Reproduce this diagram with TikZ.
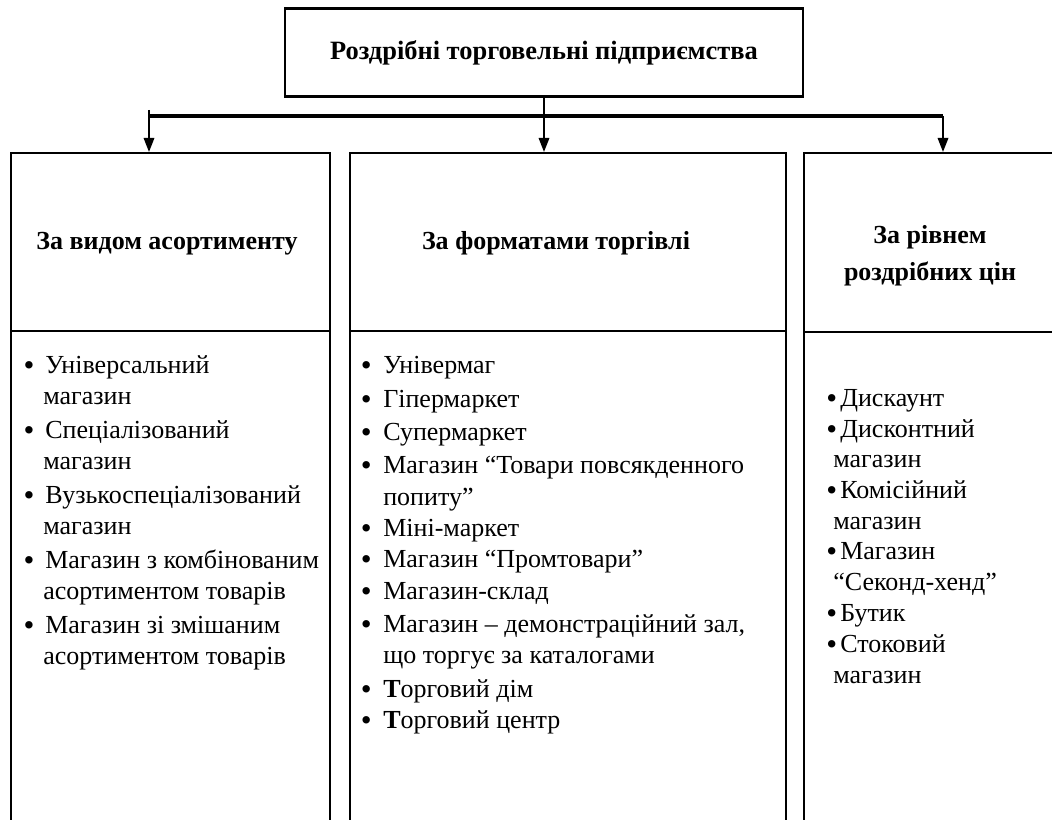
\documentclass[tikz,border=0pt]{standalone}
\usepackage{fontspec}
\setmainfont{Liberation Serif}
\usetikzlibrary{arrows.meta}

\newcommand{\bul}[1][0.27cm]{\llap{\raisebox{-1.6pt}{\fontsize{22}{22}\selectfont\textbullet}\hspace{#1}}}

\tikzset{
  px/.style={x=0.025cm, y=-0.025cm},
  frame/.style={draw, line width=1.4pt, inner sep=0pt},
  titlebox/.style={frame, line width=1.8pt, minimum width=12.95cm, minimum height=2.2cm,
    font=\fontsize{18.8}{22}\selectfont\bfseries},
  catbox/.style={frame, anchor=north west, minimum height=18cm},
  head/.style={inner sep=0pt, align=center, font=\fontsize{18.5}{26}\selectfont\bfseries},
  item/.style={inner sep=0pt, anchor=base west, font=\fontsize{18.5}{22}\selectfont},
  conn/.style={line width=1.4pt},
  bus/.style={line width=2.2pt},
  arr/.style={line width=1.4pt, -{Triangle[length=0.35cm, width=0.26cm]}}
}

\begin{document}
\begin{tikzpicture}[px]
  \useasboundingbox (0,0) rectangle (1052,820);
  \clip (0,0) rectangle (1052,820);

  % top box
  \node[titlebox] (top) at (544,52.5) {Роздрібні торговельні підприємства};

  % three groups
  \node[catbox, minimum width=7.975cm] (cat1) at (10,152) {};
  \node[catbox, minimum width=10.9cm] (cat2) at (349,152) {};
  \node[catbox, minimum width=7cm] (cat3) at (803,152) {};

  \draw[conn] (cat1.north west) ++(0,179) -- ++(319,0);
  \draw[conn] (cat2.north west) ++(0,179) -- ++(436,0);
  \draw[conn] (cat3.north west) ++(0,180) -- ++(280,0);

  % connectors
  \coordinate (busL) at (149,116);
  \coordinate (busR) at (943,116);
  \draw[bus] (busL) -- (busR);
  \draw[arr] (top.south) -- (top.south |- cat2.north);
  \draw[arr] ([yshift=0.15cm]busL) -- (busL |- cat1.north);
  \draw[arr] (busR) -- (busR |- cat3.north);

  % headings
  \node[head, anchor=base] (h1) at (167,250) {За видом асортименту};
  \node[head, anchor=base] (h2) at (556,250) {За форматами торгівлі};
  \node[head, anchor=center] (h3) at (930,256) {За рівнем\\роздрібних цін};

  % lists
  \foreach \xx/\yy/\txt [count=\i] in {
      45/373/{\bul Універсальний},
      43/404/{магазин},
      45/438/{\bul Спеціалізований},
      43/469/{магазин},
      45/503/{\bul Вузькоспеціалізований},
      43/534/{магазин},
      45/568/{\bul Магазин з комбінованим},
      43/599/{асортиментом товарів},
      45/633/{\bul Магазин зі змішаним},
      43/664/{асортиментом товарів}}
    \node[item] (a\i) at (\xx,\yy) {\txt};

  \foreach \xx/\yy/\txt [count=\i] in {
      383/373/{\bul[0.29cm]Універмаг},
      383/407/{\bul[0.29cm]Гіпермаркет},
      383/440/{\bul[0.29cm]Супермаркет},
      383/473/{\bul[0.29cm]Магазин “Товари повсякденного},
      383/505/{попиту”},
      383/536/{\bul[0.29cm]Міні-маркет},
      383/567/{\bul[0.29cm]Магазин “Промтовари”},
      383/599/{\bul[0.29cm]Магазин-склад},
      383/632/{\bul[0.29cm]Магазин – демонстраційний зал,},
      383/663/{що торгує за каталогами},
      383/697/{\bul[0.29cm]{\bfseries Т}орговий дім},
      383/728/{\bul[0.29cm]{\bfseries Т}орговий центр}}
    \node[item] (b\i) at (\xx,\yy) {\txt};

  \foreach \xx/\yy/\txt [count=\i] in {
      840/406/{\bul[0.08cm]Дискаунт},
      840/437/{\bul[0.08cm]Дисконтний},
      833/467/{магазин},
      840/498/{\bul[0.08cm]Комісійний},
      833/529/{магазин},
      840/559/{\bul[0.08cm]Магазин},
      833/590/{“Секонд-хенд”},
      840/621/{\bul[0.08cm]Бутик},
      840/652/{\bul[0.08cm]Стоковий},
      833/683/{магазин}}
    \node[item] (c\i) at (\xx,\yy) {\txt};
\end{tikzpicture}
\end{document}
